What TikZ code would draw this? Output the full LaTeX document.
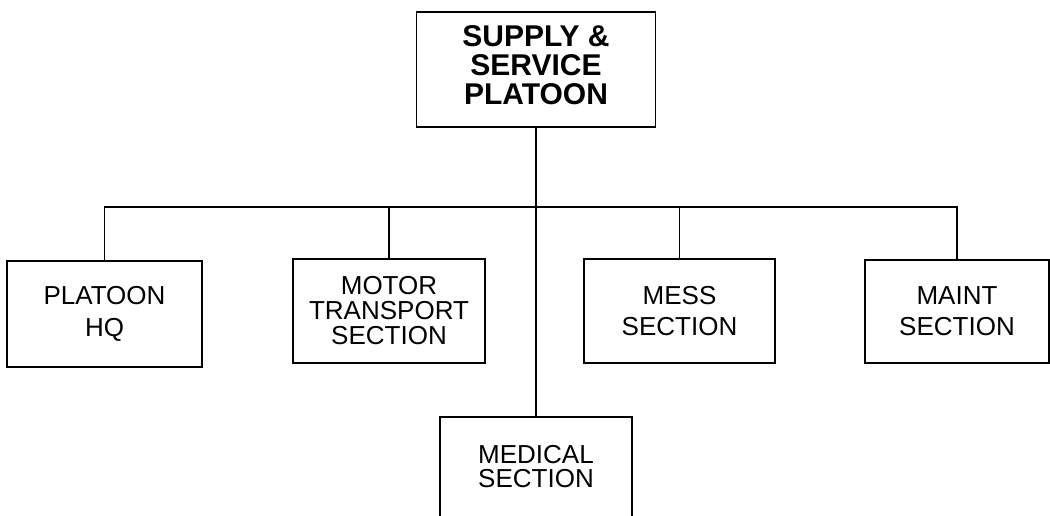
\documentclass[tikz,border=0pt]{standalone}
\usepackage{fontspec}
\setmainfont{Liberation Sans}
\usepackage{tikz}
\usetikzlibrary{positioning,calc}
\tikzset{
	unit/.style={draw, line width=1.6pt, align=center, inner sep=0pt,
		font=\fontsize{26}{25}\selectfont},
	headunit/.style={draw, line width=1.6pt, align=center, inner sep=0pt,
		font=\fontsize{30}{29}\selectfont\bfseries},
	link/.style={line width=1.6pt}
}
\begin{document}
\begin{tikzpicture}[x=1pt, y=-1pt]
	\useasboundingbox (0,0) rectangle (1050,515);
	
	%% -- Platoon head
	\node[headunit, minimum width=239pt, minimum height=115pt,
	text depth=9pt] (sup)
	at (536,69.5) {SUPPLY \&\\SERVICE\\PLATOON};
	
	%% -- Sections on the bus
	\node[unit, minimum width=195pt, minimum height=106pt,
	font=\fontsize{26}{32}\selectfont] (hq)
	at (104.5,314) {PLATOON\\HQ};
	
	\node[unit, minimum width=192pt, minimum height=104pt] (mt)
	at (389,311) {MOTOR\\TRANSPORT\\SECTION};
	
	\node[unit, minimum width=191pt, minimum height=104pt,
	font=\fontsize{26}{31}\selectfont] (mess)
	at (679.5,311) {MESS\\SECTION};
	
	\node[unit, minimum width=184pt, minimum height=103pt,
	font=\fontsize{26}{31}\selectfont] (maint)
	at (957,311.5) {MAINT\\SECTION};
	
	%% -- Section on the trunk (runs off the bottom edge)
	\node[unit, draw=none, minimum width=190pt, minimum height=98pt,
	font=\fontsize{26}{24}\selectfont, anchor=north] (med)
	at (536,417) {MEDICAL\\SECTION};
	\draw[link] ([yshift=-6pt]med.south west) -- (med.north west)
	-- (med.north east) -- ([yshift=-6pt]med.south east);
	
	%% -- Bus line
	\coordinate (bus) at (0,207);
	
	%% -- Connectors
	\draw[link] (sup.south) -- (med.north);
	\draw[link] (hq.north) -- (hq.north |- bus) -- (maint.north |- bus)
	-- (maint.north);
	\draw[link] (mt.north) -- (mt.north |- bus);
	\draw[link] (mess.north) -- (mess.north |- bus);
	
\end{tikzpicture}
\end{document}
